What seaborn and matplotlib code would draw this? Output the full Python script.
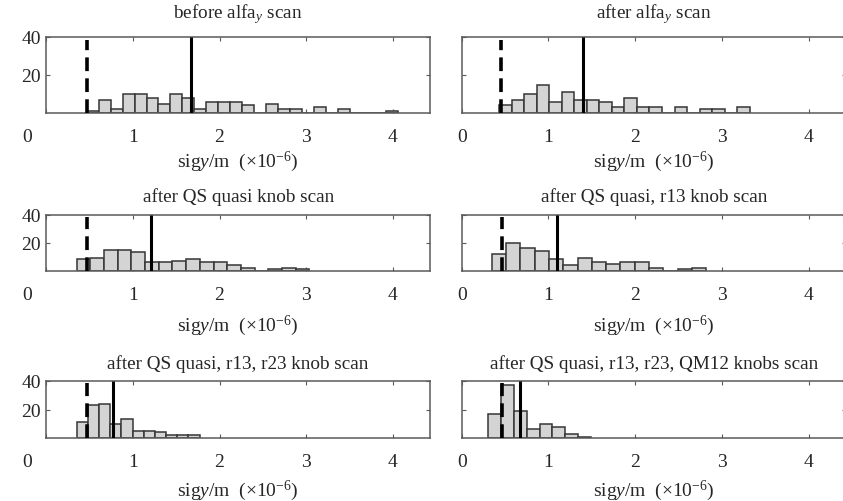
import matplotlib
matplotlib.use('Agg')
import matplotlib.pyplot as plt
from matplotlib import transforms
import seaborn as sns
import pandas as pd
import numpy as np

sns.set_style('ticks')
plt.rcParams['font.family'] = ['Liberation Serif', 'DejaVu Serif']
plt.rcParams['mathtext.fontset'] = 'custom'
plt.rcParams['mathtext.rm'] = 'Liberation Serif'
plt.rcParams['mathtext.it'] = 'Liberation Serif:italic'

# region data
titles = [
    r'before alfa$_{\mathit{y}}$ scan',
    r'after alfa$_{\mathit{y}}$ scan',
    'after QS quasi knob scan',
    'after QS quasi, r13 knob scan',
    'after QS quasi, r13, r23 knob scan',
    'after QS quasi, r13, r23, QM12 knobs scan',
]
bin_lo = [0.467, 0.430, 0.351, 0.346, 0.351, 0.307]
bin_w = [0.138, 0.1446, 0.158, 0.165, 0.129, 0.148]
counts_1 = [1, 7, 2, 10, 10, 8, 5, 10, 8, 2, 6, 6, 6, 4, 0, 5, 2, 2, 0, 3, 0, 2, 0, 0, 0, 1]
counts_2 = [4, 7, 10, 15, 6, 11, 7, 7, 6, 3, 8, 3, 3, 0, 3, 0, 2, 2, 0, 3]
counts_3 = [8, 9, 15, 15, 13, 6, 6, 7, 8, 6, 6, 4, 2, 0, 1, 2, 1]
counts_4 = [12, 20, 16, 14, 8, 4, 9, 6, 5, 6, 6, 2, 0, 1, 2]
counts_5 = [11, 23, 24, 10, 13, 5, 5, 4, 2, 2, 2]
counts_6 = [17, 37, 19, 6, 10, 8, 3, 1]
all_counts = [counts_1, counts_2, counts_3, counts_4, counts_5, counts_6]
mean_sig = [1.67, 1.40, 1.21, 1.10, 0.775, 0.672]    # solid line
design_sig = [0.467, 0.45, 0.467, 0.461, 0.467, 0.468]  # dashed line
x_ticks = [0, 1, 2, 3, 4]
y_ticks = [20, 40]
# endregion

W, H = 843, 502
fig = plt.figure(figsize=(W / 100, H / 100), dpi=100)

# pixel boxes: (left, right) / (top, bottom)
col_x = [(46.3, 430.0), (461.7, 845.8)]
row_y = [(38.0, 114.0), (216.0, 271.5), (382.0, 439.0)]
title_pad = [14, 10, 9]
xlabel_y = [-0.47, -0.76, -0.69]

FILL = '#d4d4d4'
EDGE = '#363636'
SPINE = '#5a5a5a'
FS = 14

for i in range(6):
    r, c = divmod(i, 2)
    x0, x1 = col_x[c]
    top, bot = row_y[r]
    ax = fig.add_axes([x0 / W, (H - bot) / H, (x1 - x0) / W, (bot - top) / H])

    counts = np.array(all_counts[i], dtype=float)
    edges = bin_lo[i] + bin_w[i] * np.arange(len(counts) + 1)
    df = pd.DataFrame({'sig': (edges[:-1] + edges[1:]) / 2, 'n': counts})
    sns.histplot(data=df, x='sig', weights='n', bins=list(edges), ax=ax,
                 color=FILL, edgecolor=EDGE, linewidth=1.1, alpha=1.0)

    ax.vlines(design_sig[i], 0, 38.5, colors='black', linewidth=2.6,
              linestyles=(0, (3.8, 2.0)), zorder=5)
    ax.vlines(mean_sig[i], 0, 40, colors='black', linewidth=2.2, zorder=5)

    ax.set_xlim(0, 4.43)
    ax.set_ylim(0, 40)
    ax.set_xticks(x_ticks)
    ax.set_yticks(y_ticks)
    ax.set_xticklabels([str(t) for t in x_ticks], fontsize=FS)
    if c == 0:
        ax.set_yticklabels([str(t) for t in y_ticks], fontsize=FS)
    else:
        ax.set_yticklabels([])
    ax.set_ylabel('')
    ax.tick_params(axis='both', direction='in', length=3, width=0.8,
                   color=SPINE, top=True, right=True)
    ax.tick_params(axis='x', pad=11)
    ax.tick_params(axis='y', pad=4)
    if c == 0:
        # MATLAB puts the 0 a bit to the left of the box
        lab0 = ax.xaxis.get_major_ticks()[0].label1
        lab0.set_transform(lab0.get_transform() +
                           transforms.ScaledTranslation(-0.19, 0, fig.dpi_scale_trans))
    for sp in ax.spines.values():
        sp.set_color(SPINE)
        sp.set_linewidth(1.1)

    ax.set_title(titles[i], fontsize=13.8, pad=title_pad[r])
    ax.set_xlabel(r'sig$\mathit{y}$/m  ($\times$10$^{-6}$)', fontsize=14)
    ax.xaxis.set_label_coords(0.5, xlabel_y[r])

fig.savefig('out.png', dpi=100)
plt.close(fig)
